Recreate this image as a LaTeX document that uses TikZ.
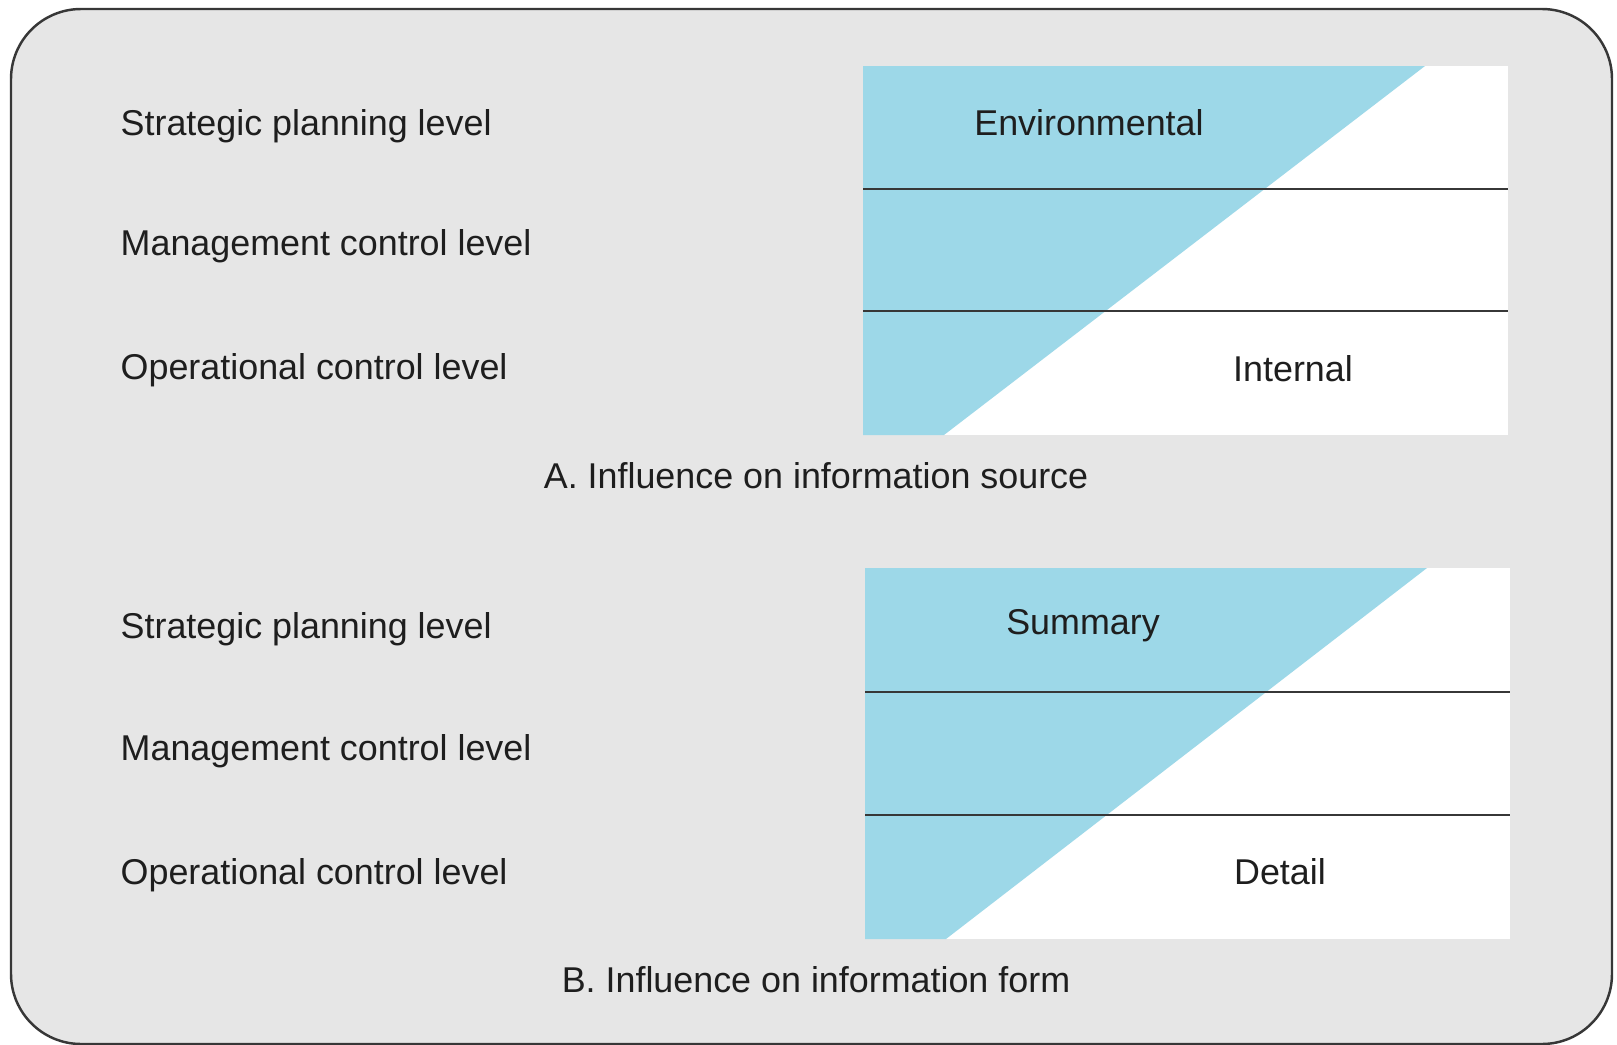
\documentclass[tikz,border=0pt]{standalone}
\usepackage{fontspec}
\setmainfont{Liberation Sans}
\definecolor{panelgray}{RGB}{230,230,230}
\definecolor{levelblue}{RGB}{157,216,232}
\definecolor{rulegray}{RGB}{55,55,55}
\definecolor{textgray}{RGB}{30,30,30}
\tikzset{
	lvl/.style={anchor=west, inner sep=0pt, text=textgray, font=\fontsize{10.2}{12}\selectfont},
	tag/.style={inner sep=0pt, text=textgray, font=\fontsize{10.2}{12}\selectfont},
	rowline/.style={draw=rulegray, line width=0.65pt}
}

\begin{document}
\begin{tikzpicture}[x=0.01cm,y=-0.01cm]
	\useasboundingbox (0,0) rectangle (1617,1045);
	\draw[fill=panelgray, draw=rulegray, line width=0.7pt, rounded corners=0.7cm] (11,9) rectangle (1612,1044);
	% panel A
	\fill[white] (863,66) rectangle (1508,435);
	\fill[levelblue] (863,66) -- (1425,66) -- (944,435) -- (863,435) -- cycle;
	\draw[rowline] (863,189) -- (1508,189);
	\draw[rowline] (863,311) -- (1508,311);
	\node[lvl] (stratA) at (120,126) {Strategic planning level};
	\node[lvl] (mgmtA) at (120,246) {Management control level};
	\node[lvl] (operA) at (120,370) {Operational control level};
	\node[tag] (envir) at (1089,123) {Environmental};
	\node[tag] (intern) at (1293,369) {Internal};
	\node[tag] (capA) at (816,476) {A. Influence on information source};
	% panel B
	\fill[white] (865,568) rectangle (1510,939);
	\fill[levelblue] (865,568) -- (1427,568) -- (946,939) -- (865,939) -- cycle;
	\draw[rowline] (865,692) -- (1510,692);
	\draw[rowline] (865,815) -- (1510,815);
	\node[lvl] (stratB) at (120,629) {Strategic planning level};
	\node[lvl] (mgmtB) at (120,751) {Management control level};
	\node[lvl] (operB) at (120,875) {Operational control level};
	\node[tag] (summ) at (1083,626) {Summary};
	\node[tag] (detail) at (1280,872) {Detail};
	\node[tag] (capB) at (816,980) {B. Influence on information form};
	%\draw [brown] (current bounding box.south west) rectangle (current bounding box.north east);
\end{tikzpicture}
\end{document}
